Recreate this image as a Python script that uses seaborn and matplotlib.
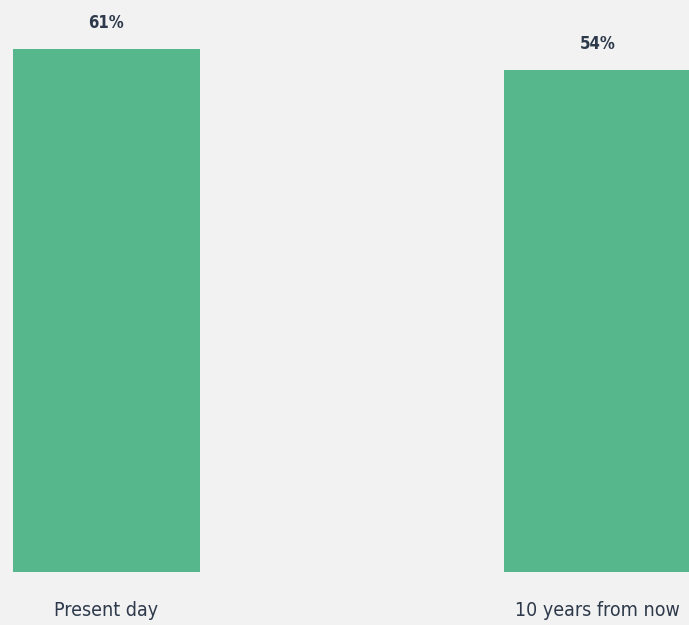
import matplotlib
matplotlib.use("Agg")
import matplotlib.pyplot as plt
import seaborn as sns
import pandas as pd

categories = ["Present day", "10 years from now"]
shares = [61, 54]
share_labels = ["61%", "54%"]

bg = "#f2f2f2"
bar_color = "#57b78c"
text_color = "#2e3a4b"

sns.set_theme(style="white")
plt.rcParams["font.family"] = ["DejaVu Sans"]
plt.rcParams["font.stretch"] = "condensed"

df = pd.DataFrame({"when": categories, "share": shares})

fig = plt.figure(figsize=(6.89, 6.25), dpi=100, facecolor=bg)
ax = fig.add_axes([0, 53 / 625, 1, 572 / 625])
ax.set_facecolor(bg)

sns.barplot(data=df, x="when", y="share", color=bar_color, width=0.381,
            saturation=1, linewidth=0, ax=ax)

# the reference compresses the bar heights; a log axis reproduces that
ax.set_yscale("log")
ax.set_ylim(2.92, 81.1)
ax.set_xlim(-0.2169, 1.1864)

for i, (v, lab) in enumerate(zip(shares, share_labels)):
    ax.annotate(lab, (i, v), xytext=(0, 19), textcoords="offset points",
                ha="center", va="center", fontsize=12, fontweight="bold",
                color=text_color)

ax.set_xlabel("")
ax.set_ylabel("")
ax.set_yticks([])
ax.set_yticks([], minor=True)
ax.tick_params(axis="x", length=0, pad=21, labelsize=14, labelcolor=text_color)
sns.despine(ax=ax, left=True, bottom=True)

fig.savefig("out.png", dpi=100, facecolor=bg)
